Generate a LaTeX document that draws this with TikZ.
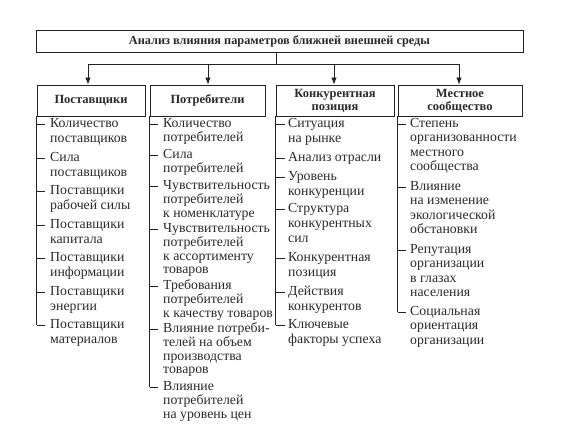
\documentclass[tikz,border=0pt]{standalone}
\usepackage{fontspec}
\setmainfont{Liberation Serif}
\usetikzlibrary{arrows.meta}
\definecolor{ink}{HTML}{222222}
\definecolor{txt}{HTML}{2A2A2A}
\newcommand{\itm}[1]{\begin{tabular}[t]{@{}l@{}}#1\end{tabular}}
\def\lh{15}
% #1 name, #2 box, #3 tick end x, #4 text x, #5 tick y, #6 text
\newcommand{\colitem}[6]{%
  \coordinate (#1t) at (#3,#5);
  \draw[ln] (#2.south west |- #1t) -- (#1t);
  \node[itemtxt] (#1) at (#4,#5+3.6) {\itm{#6}};}
\begin{document}
\begin{tikzpicture}[x=1pt,y=-1pt,
  ln/.style={draw=ink, line width=0.8pt},
  arr/.style={ln, -{Latex[length=7pt,width=5.5pt]}},
  boxnode/.style={draw=ink, line width=0.9pt, inner sep=0, align=center,
    text=txt, font=\bfseries\fontsize{12.5}{13}\selectfont},
  titlebox/.style={boxnode, font=\bfseries\fontsize{12.3}{13}\selectfont},
  itemtxt/.style={anchor=base west, inner sep=0, text=txt,
    font=\fontsize{13.8}{\lh}\selectfont}]
\useasboundingbox[fill=white] (0,0) rectangle (575,429);

\node[titlebox, minimum width=487pt, minimum height=22pt] (top) at (279.5,41)
  {Анализ влияния параметров ближней внешней среды};

\node[boxnode, minimum width=108pt, minimum height=31pt] (b1) at (91,100.5) {Поставщики};
\node[boxnode, minimum width=115pt, minimum height=31pt] (b2) at (207.5,100.5) {Потребители};
\node[boxnode, minimum width=118pt, minimum height=31pt] (b3) at (335,100.5) {Конкурентная\\позиция};
\node[boxnode, minimum width=124pt, minimum height=31pt] (b4) at (460,100.5) {Местное\\сообщество};

\coordinate (j) at (276,64);
\coordinate (a1) at (88,64);
\coordinate (a2) at (208,64);
\coordinate (a3) at (334,64);
\coordinate (a4) at (459,64);
\draw[ln] (top.south -| j) -- (j);
\draw[ln] (a1) -- (a4);
\draw[arr] (a1) -- (b1.north -| a1);
\draw[arr] (a2) -- (b2.north -| a2);
\draw[arr] (a3) -- (b3.north -| a3);
\draw[arr] (a4) -- (b4.north -| a4);

% column 1
\def\lh{15}
\colitem{i11}{b1}{45}{50}{124}{Количество\\поставщиков}
\colitem{i12}{b1}{45}{50}{158}{Сила\\поставщиков}
\colitem{i13}{b1}{45}{50}{191}{Поставщики\\рабочей силы}
\colitem{i14}{b1}{45}{50}{225}{Поставщики\\капитала}
\colitem{i15}{b1}{45}{50}{258}{Поставщики\\информации}
\colitem{i16}{b1}{45}{50}{292}{Поставщики\\энергии}
\colitem{i17}{b1}{45}{50}{325}{Поставщики\\материалов}
\draw[ln] (b1.south west) -- (b1.south west |- i17t);

% column 2
\def\lh{13.5}
\colitem{i21}{b2}{158}{163}{124}{Количество\\потребителей}
\colitem{i22}{b2}{158}{163}{155}{Сила\\потребителей}
\colitem{i23}{b2}{158}{163}{186}{Чувствительность\\потребителей\\к номенклатуре}
\colitem{i24}{b2}{158}{163}{229}{Чувствительность\\потребителей\\к ассортименту\\товаров}
\colitem{i25}{b2}{158}{163}{286}{Требования\\потребителей\\к качеству товаров}
\colitem{i26}{b2}{158}{163}{329}{Влияние потреби-\\телей на объем\\производства\\товаров}
\colitem{i27}{b2}{158}{163}{387}{Влияние\\потребителей\\на уровень цен}
\draw[ln] (b2.south west) -- (b2.south west |- i27t);

% column 3
\def\lh{15}
\colitem{i31}{b3}{285}{288}{124}{Ситуация\\на рынке}
\colitem{i32}{b3}{285}{288}{158}{Анализ отрасли}
\colitem{i33}{b3}{285}{288}{177}{Уровень\\конкуренции}
\colitem{i34}{b3}{285}{288}{209}{Структура\\конкурентных\\сил}
\colitem{i35}{b3}{285}{288}{258}{Конкурентная\\позиция}
\colitem{i36}{b3}{285}{288}{292}{Действия\\конкурентов}
\colitem{i37}{b3}{285}{288}{325}{Ключевые\\факторы успеха}
\draw[ln] (b3.south west) -- (b3.south west |- i37t);

% column 4
\def\lh{14.3}
\colitem{i41}{b4}{406}{410}{124}{Степень\\организованности\\местного\\сообщества}
\colitem{i42}{b4}{406}{410}{187}{Влияние\\на изменение\\экологической\\обстановки}
\colitem{i43}{b4}{406}{410}{250}{Репутация\\организации\\в глазах\\населения}
\colitem{i44}{b4}{406}{410}{312}{Социальная\\ориентация\\организации}
\draw[ln] (b4.south west) -- (b4.south west |- i44t);
\end{tikzpicture}
\end{document}
